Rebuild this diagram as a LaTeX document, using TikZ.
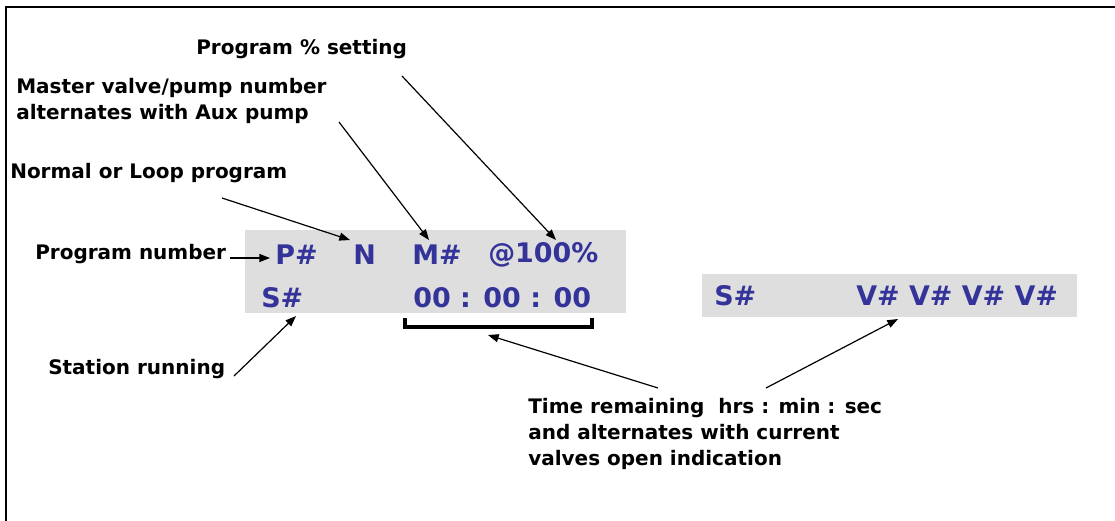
\documentclass[tikz,border=0pt]{standalone}
\usepackage{fontspec}
\setmainfont{DejaVu Sans}
\usetikzlibrary{arrows.meta,calc}
\definecolor{lcdgrey}{HTML}{DEDEDE}
\definecolor{lcdblue}{HTML}{333399}

\tikzset{
  lbl/.style={inner sep=0pt, font=\bfseries\fontsize{15}{19.5}\selectfont, align=left},
  lcd/.style={inner sep=0pt, text=lcdblue, font=\bfseries\fontsize{20.2}{20}\selectfont},
  ptr/.style={-{Triangle[length=8pt,width=6pt]}, line width=0.9pt}
}

\begin{document}
\begin{tikzpicture}[x=0.75pt, y=-0.75pt]
  \useasboundingbox (0,0) rectangle (1115,521);
  % frame
  \draw[line width=2.2pt] (1115,7) -- (6,7) -- (6,521);

  % display panels
  \fill[lcdgrey] (245,230) rectangle (626,313);
  \fill[lcdgrey] (702,274) rectangle (1077,317);

  % first panel
  \node[lcd, anchor=west] (pn) at (275,255) {P\#};
  \node[lcd, anchor=west] (nl) at (353,255) {N};
  \node[lcd, anchor=west] (mv) at (412,255) {M\#};
  \node[lcd, anchor=west] (pct) at (488,255) {@100\%};
  \node[lcd, anchor=west] (st) at (261,298) {S\#};
  \node[lcd, anchor=west] (tm) at (413,298) {00 : 00 : 00};

  % second panel
  \node[lcd, anchor=west] (st2) at (714,296) {S\#};
  \node[lcd, anchor=west] (vv) at (856,296) {V\# V\# V\# V\#};

  % bracket under time
  \coordinate (brl) at (405,318);
  \coordinate (brr) at (592,318);
  \draw[line width=2.4pt] (brl) -- ++(0,9) -- ($(brr)+(0,9)$) -- (brr);

  % labels
  \node[lbl, anchor=west] (lpct) at (196,49) {Program \% setting};
  \node[lbl, anchor=west] (lmv) at (16,101) {Master valve/pump number\\alternates with Aux pump};
  \node[lbl, anchor=west] (lnl) at (10,173) {Normal or Loop program};
  \node[lbl, anchor=west] (lpn) at (35,254) {Program number};
  \node[lbl, anchor=west] (lst) at (48,369) {Station running};
  \node[lbl, anchor=west] (ltm) at (528,434) {Time remaining\ \ hrs : min : sec\\and alternates with current\\valves open indication};

  % pointers
  \coordinate (apn) at (230,258);   \coordinate (bpn) at (270,258);
  \coordinate (anl) at (222,198);   \coordinate (bnl) at (350,240);
  \coordinate (amv) at (339,122);   \coordinate (bmv) at (429,240);
  \coordinate (apct) at (402,76);   \coordinate (bpct) at (556,240);
  \coordinate (ast) at (234,376);   \coordinate (bst) at (296,316);
  \coordinate (atm) at (658,388);   \coordinate (btm) at (488,335);
  \coordinate (avv) at (766,388);   \coordinate (bvv) at (898,319);
  \draw[ptr] (apn) -- (bpn);
  \draw[ptr] (anl) -- (bnl);
  \draw[ptr] (amv) -- (bmv);
  \draw[ptr] (apct) -- (bpct);
  \draw[ptr] (ast) -- (bst);
  \draw[ptr] (atm) -- (btm);
  \draw[ptr] (avv) -- (bvv);
\end{tikzpicture}
\end{document}
